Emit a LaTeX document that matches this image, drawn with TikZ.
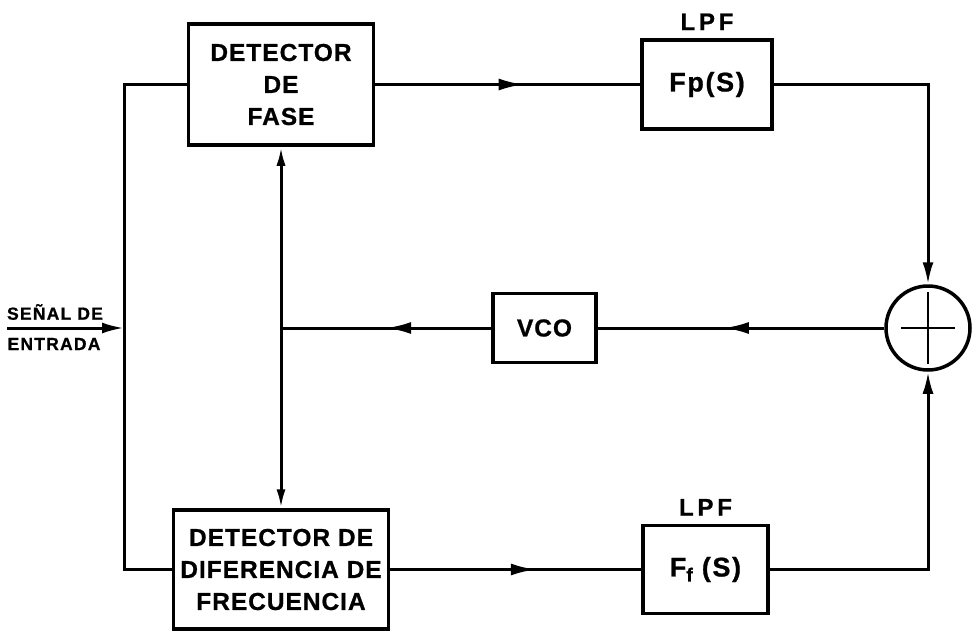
\documentclass[tikz,border=0pt]{standalone}
\usepackage{fontspec}
\setmainfont{Liberation Sans}
\usetikzlibrary{arrows.meta,decorations.markings,positioning}
\newcommand{\subf}{\lower5pt\hbox{\fontsize{19}{19}\selectfont f}}

\begin{document}
\begin{tikzpicture}[x=1pt,y=-1pt,>={Latex[length=22pt,width=11pt]},
  blk/.style={draw,line width=3.5pt,align=center,inner sep=0pt,font=\fontsize{24.5}{32}\selectfont\bfseries\addfontfeature{LetterSpace=4,FakeBold=0.8}},
  lbl/.style={inner sep=1pt,font=\fontsize{24}{26}\selectfont\bfseries\addfontfeature{LetterSpace=16,FakeBold=0.8}},
  inlbl/.style={inner sep=1pt,font=\fontsize{17.5}{20}\selectfont\bfseries\addfontfeature{LetterSpace=7,FakeBold=0.8}},
  wire/.style={line width=3pt},
  arrowat/.style={postaction={decorate},decoration={markings,mark=at position #1 with {\arrow{Latex[length=25pt,width=12pt]}}}}]
\useasboundingbox (0,0) rectangle (974,634);
\node[blk,minimum width=185,minimum height=121] (pd) at (281,84.5) {DETECTOR\\DE\\FASE};
\node[blk,minimum width=215,minimum height=119] (fd) at (281,569.5) {DETECTOR DE\\DIFERENCIA DE\\FRECUENCIA};
\node[blk,minimum width=130,minimum height=89,font=\fontsize{27}{32}\selectfont\bfseries\addfontfeature{LetterSpace=6,FakeBold=0.8}] (lpfp) at (707,84.5) {Fp(S)};
\node[blk,minimum width=125,minimum height=88,font=\fontsize{27}{32}\selectfont\bfseries\addfontfeature{LetterSpace=6,FakeBold=0.8}] (lpff) at (705.5,569.5) {F\subf\ (S)};
\node[blk,minimum width=103,minimum height=69] (vco) at (544.5,328) {VCO};
\node[draw,circle,line width=3.5pt,minimum size=84] (sum) at (928,328) {};
\draw[line width=2.6pt] (sum.center) ++(-27,0) -- ++(54,0) (sum.center) ++(0,-36) -- ++(0,72);
\node[lbl,above=7pt of lpfp] (lpfpname) {LPF};
\node[lbl,above=7pt of lpff] (lpffname) {LPF};
\node[inlbl] (sen) at (55,312) {SEÑAL DE};
\node[inlbl] (ent) at (54,344) {ENTRADA};
\coordinate (inp) at (7,328);
\coordinate (bus) at (124,328);
\draw[wire,->] (inp) -- (bus);
\draw[wire] (pd.west) -| (bus) |- (fd.west);
\draw[wire,arrowat=0.56] (pd.east) -- (lpfp.west);
\draw[wire,arrowat=0.58] (fd.east) -- (lpff.west);
\draw[wire,->] (lpfp.east) -| (sum.north);
\draw[wire,->] (lpff.east) -| (sum.south);
\draw[wire,arrowat=0.56] (sum.west) -- (vco.east);
\draw[wire,arrowat=0.5] (vco.west) -- (vco.west -| pd.south);
\draw[wire,{Latex[length=19pt,width=9pt]}-{Latex[length=19pt,width=9pt]}] (pd.south) -- (fd.north);
\end{tikzpicture}
\end{document}
